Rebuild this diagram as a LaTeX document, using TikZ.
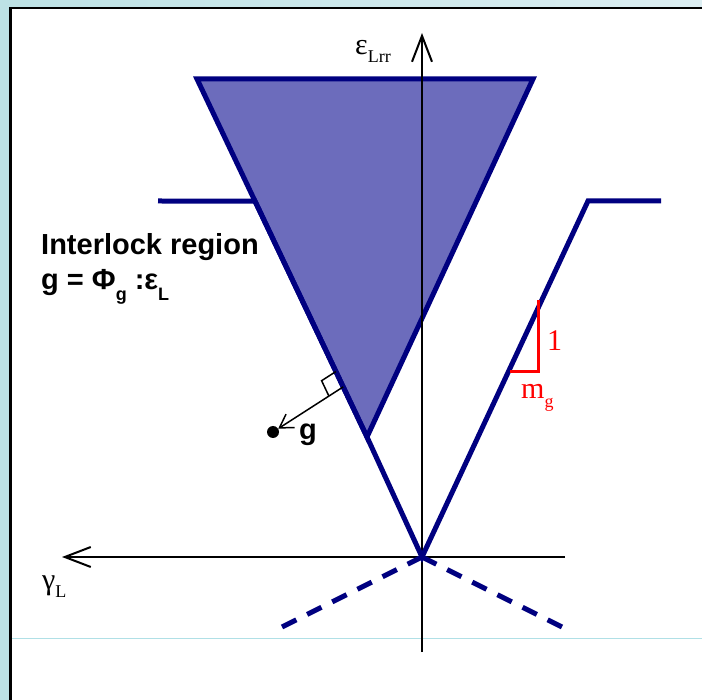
\documentclass[tikz,border=0pt]{standalone}
\usepackage{fontspec}
\setmainfont{Liberation Sans}
\newfontfamily\timesfont{Liberation Serif}
\usetikzlibrary{arrows.meta, calc}
\definecolor{navyline}{HTML}{000080}
\definecolor{hatchblue}{HTML}{6C6CBC}
\definecolor{frameblue}{HTML}{BDE2E5}
\definecolor{framelight}{HTML}{DCEEF2}
\definecolor{rulecyan}{HTML}{B0E0E6}
\newcommand{\lowsub}[2][-0.3em]{\raisebox{#1}{\fontsize{18}{18}\selectfont #2}}

\begin{document}
\begin{tikzpicture}[x=1pt, y=-1pt,
  axis/.style={line width=2pt, black},
  bound/.style={line width=5pt, navyline, line join=miter},
  guess/.style={line width=5pt, navyline, dash pattern=on 16pt off 12.1pt},
  slope/.style={line width=3pt, red},
  serifl/.style={font=\fontsize{30}{30}\selectfont\timesfont, inner sep=0pt, anchor=base west},
  boldl/.style={font=\fontsize{29}{29}\selectfont\bfseries, inner sep=0pt, anchor=base west},
  bigtip/.style={-{Straight Barb[length=26pt, width=20pt]}},
]
\useasboundingbox (0,0) rectangle (702,700);

% ---- cadre ----
\fill[white] (0,0) rectangle (702,700);
\fill[frameblue] (0,0) rectangle (10,700);
\shade[left color=frameblue, right color=framelight] (0,0) rectangle (702,8);
\draw[rulecyan, line width=1pt] (11,638) -- (702,638);
\draw[line width=2.5pt] (10.5,700) -- (10.5,8) -- (702,8);

% ---- points ----
\coordinate (O) at (422,557);
\coordinate (tl) at (197,79);
\coordinate (tr) at (533,79);
\coordinate (tb) at (367,437);
\coordinate (lc) at ($(tb)!0.659!(tl)$);
\coordinate (lh) at (158,201);
\coordinate (rc) at (588,201);
\coordinate (rh) at (661,201);
\coordinate (dl) at (282,627);
\coordinate (dr) at (562,627);

% ---- region de blocage ----
\draw[bound, fill=hatchblue] (tl) -- (tr) -- (tb) -- cycle;

% ---- axes ----
\coordinate (ytop) at (422,33);
\coordinate (ybot) at (422,652);
\coordinate (xleft) at (62,557);
\coordinate (xright) at (565,557);
\draw[axis, bigtip] (ybot) -- (ytop);
\draw[axis, bigtip] (xright) -- (xleft);
\node[serifl] (eps) at (355,55) {ε\lowsub[-0.25em]{Lrr}};
\node[serifl] (gam) at (42,590) {γ\lowsub[-0.25em]{L}};

% ---- frontieres ----
\draw[bound] (lh) -- (lc) -- (tb) -- (O) -- (rc) -- (rh);
\draw[guess] (O) -- (dl);
\draw[guess] (O) -- (dr);

% ---- pente ----
\coordinate (redtop) at (538,300);
\coordinate (redcorner) at (538,372);
\coordinate (redleft) at (510,372);
\draw[slope] (redtop) -- (redcorner) -- (redleft);
\node[serifl, red] (one) at (547,351) {1};
\node[serifl, red] (mg) at (521,399) {m\lowsub[-0.3em]{g}};

% ---- normale g ----
\coordinate (F) at ($(tb)!0.14!(tl)$);
\node[circle, fill=black, inner sep=0pt, minimum size=12pt] (gdot) at (273,432) {};
\draw[line width=1.5pt, -{Straight Barb[length=13pt, width=16pt]}] (F) -- (gdot);
\coordinate (P1) at ($(F)!17pt!(gdot)$);
\coordinate (P3) at ($(F)!17pt!(tl)$);
\draw[line width=1.5pt] (P1) -- ($(P1)+(P3)-(F)$) -- (P3);
\node[boldl] (glab) at (299,440) {g};

% ---- texte ----
\node[boldl] (title) at (41,255) {Interlock region};
\node[boldl] (formula) at (41,290) {g = Φ\lowsub[-0.35em]{\bfseries g} :ε\lowsub[-0.35em]{\bfseries L}};

\end{tikzpicture}
\end{document}
